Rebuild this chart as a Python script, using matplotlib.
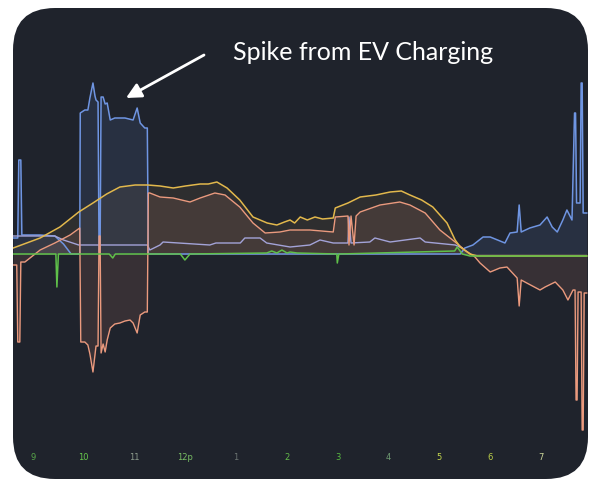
import numpy as np
import matplotlib
matplotlib.use("Agg")
import matplotlib.pyplot as plt
from matplotlib.patches import FancyBboxPatch

# horas (24h) y kW
solar_t = [8.61, 9.14, 9.53, 9.9, 10.18, 10.45, 10.71, 11.01, 11.26, 11.5, 11.76, 12.0,
           12.29, 12.45, 12.62, 12.82, 13.07, 13.33, 13.61, 13.8, 13.95, 14.06, 14.15,
           14.26, 14.4, 14.55, 14.7, 14.91, 14.95, 15.2, 15.44, 15.75, 16.03, 16.25,
           16.42, 16.65, 16.87, 17.15, 17.31, 17.41, 17.6, 17.75, 19.9]
solar_v = [0.3, 0.8, 1.35, 2.1, 2.55, 3.0, 3.35, 3.45, 3.45, 3.4, 3.3, 3.4,
           3.5, 3.5, 3.6, 3.3, 2.7, 1.85, 1.55, 1.45, 1.6, 1.7, 1.55,
           1.85, 1.7, 1.85, 1.75, 1.8, 2.3, 2.55, 2.85, 2.95, 3.1, 3.15,
           2.95, 2.7, 2.35, 1.55, 0.7, 0.35, 0.0, -0.1, -0.1]

net_t = [8.61, 8.68, 8.70, 8.74, 8.76, 8.84, 9.14, 9.43, 9.73, 9.92,
         9.94, 10.02, 10.08, 10.12, 10.18, 10.24, 10.28, 10.30, 10.32, 10.34,
         10.38, 10.42, 10.46, 10.52, 10.61, 10.71, 10.81, 10.91, 10.97, 11.05,
         11.11, 11.2, 11.25, 11.27, 11.3, 11.5, 11.76, 12.09, 12.29, 12.58,
         12.78, 13.07, 13.33, 13.57, 13.86, 14.06, 14.45, 14.91, 14.95, 15.2,
         15.22, 15.26, 15.32, 15.36, 15.44, 15.83, 16.22, 16.42, 16.72, 17.01,
         17.31, 17.5, 17.7, 17.8, 18.0, 18.19, 18.33, 18.53, 18.57, 18.61,
         18.72, 18.98, 19.08, 19.28, 19.43, 19.53, 19.63, 19.67, 19.69, 19.71,
         19.73, 19.79, 19.81, 19.83, 19.85, 19.9]
net_v = [-0.55, -0.55, -4.4, -4.4, -0.4, -0.4, 0.2, 0.55, 0.95, 1.3,
         -4.4, -4.4, -4.55, -5.0, -5.9, -4.6, -4.6, 0.9, 0.9, -4.95,
         -4.5, -4.9, -4.3, -3.7, -3.5, -3.45, -3.35, -3.3, -3.45, -3.95,
         -3.05, -2.9, -2.9, 3.05, 3.05, 2.85, 2.8, 2.6, 2.8, 3.05,
         2.95, 2.35, 1.55, 1.05, 1.1, 1.2, 1.2, 1.1, 1.85, 1.9,
         0.45, 1.9, 0.45, 1.9, 2.1, 2.45, 2.6, 2.45, 2.05, 1.2,
         0.6, 0.2, -0.15, -0.45, -0.9, -0.7, -0.65, -1.2, -2.6, -1.3,
         -1.45, -1.8, -1.65, -1.4, -1.8, -2.3, -1.8, -1.8, -7.3, -7.3,
         -1.9, -1.9, -8.8, -8.8, -1.95, -1.95]

grid_t = [8.61, 8.70, 8.72, 8.76, 8.78, 9.14, 9.43, 9.6, 9.75, 9.92,
          9.93, 10.02, 10.08, 10.12, 10.18, 10.22, 10.24, 10.28, 10.30, 10.32,
          10.34, 10.38, 10.42, 10.46, 10.52, 10.61, 10.81, 10.97, 11.05, 11.11,
          11.2, 11.25, 11.27, 17.41, 17.5, 17.66, 17.86, 18.0, 18.29, 18.39,
          18.53, 18.57, 18.61, 18.78, 18.98, 19.12, 19.22, 19.32, 19.43, 19.51,
          19.61, 19.66, 19.68, 19.70, 19.77, 19.79, 19.81, 19.83, 19.9]
grid_v = [0.8, 0.8, 4.7, 4.7, 0.95, 0.95, 0.9, 0.5, 0.0, 0.0,
          7.05, 7.2, 7.2, 7.8, 8.55, 7.9, 7.7, 7.6, 0.1, 0.1,
          7.85, 7.85, 7.5, 7.55, 6.7, 6.8, 6.8, 6.7, 7.3, 6.55,
          6.3, 6.3, 0.0, 0.0, 0.3, 0.45, 0.85, 0.85, 0.55, 1.05,
          1.1, 2.45, 1.1, 1.3, 1.45, 1.85, 1.35, 1.1, 1.7, 2.2,
          1.7, 7.05, 7.05, 2.55, 2.55, 8.55, 8.55, 2.05, 2.05]

home_t = [8.61, 9.43, 9.6, 9.9, 11.25, 11.3, 11.5, 11.56, 12.48, 12.6,
          13.08, 13.17, 13.47, 13.6, 14.06, 14.45, 14.65, 14.91, 15.2, 15.22,
          15.26, 15.63, 15.73, 16.03, 16.62, 16.72, 17.31, 17.45]
home_v = [0.9, 0.9, 0.7, 0.45, 0.45, 0.2, 0.45, 0.6, 0.45, 0.55,
          0.55, 0.8, 0.8, 0.55, 0.35, 0.45, 0.7, 0.55, 0.55, 1.85,
          0.55, 0.6, 0.8, 0.6, 0.8, 0.6, 0.45, 0.3]

batt_t = [8.61, 9.45, 9.47, 9.50, 10.5, 10.57, 10.62, 11.9, 11.99, 12.09,
          13.6, 13.7, 13.8, 13.9, 14.0, 14.06, 14.2, 14.98, 14.99, 15.02,
          17.3, 17.35, 17.45, 17.6, 19.9]
batt_v = [0.0, 0.0, -1.65, 0.0, 0.0, -0.2, 0.0, 0.0, -0.3, 0.0,
          0.05, 0.15, 0.05, 0.2, 0.05, 0.1, 0.05, 0.0, -0.45, 0.0,
          0.15, 0.35, 0.0, -0.1, -0.1]

hour_ticks = [9, 10, 11, 12, 13, 14, 15, 16, 17, 18, 19]
hour_labels = ["9", "10", "11", "12p", "1", "2", "3", "4", "5", "6", "7"]
label_colors = ["#58a64a", "#66c84c", "#8c9a8c", "#78bd64", "#6b7472", "#62b84a",
                "#58b842", "#6e9a72", "#c4d64e", "#bccf48", "#ccd69a"]

BG = "#1f232c"

fig = plt.figure(figsize=(5.92, 4.83), dpi=100)
fig.patch.set_facecolor("white")

panel = FancyBboxPatch((13, 4), 575, 471, boxstyle="round,pad=0,rounding_size=42",
                       transform=None, facecolor=BG, edgecolor="none", zorder=0)
fig.add_artist(panel)

ax = fig.add_axes([13 / 592, 4 / 483, 575 / 592, 471 / 483])
ax.set_xlim(8.606, 19.925)
ax.set_ylim(-11.25, 12.3)
ax.axis("off")
ax.patch.set_alpha(0)

arts = []
arts.append(ax.fill_between(solar_t, 0, solar_v, color="#c8a050", alpha=0.09, lw=0))
arts.append(ax.fill_between(net_t, 0, net_v, color="#e8927a", alpha=0.12, lw=0))
arts.append(ax.fill_between(grid_t, 0, grid_v, color="#6a90e0", alpha=0.12, lw=0))
arts += ax.plot(grid_t, grid_v, color="#6f95e2", lw=1.1)
arts += ax.plot(home_t, home_v, color="#a3a3d8", lw=1.0)
arts += ax.plot(net_t, net_v, color="#eb9a7e", lw=1.0)
arts += ax.plot(solar_t, solar_v, color="#e2b84c", lw=1.1)
arts += ax.plot(batt_t, batt_v, color="#5fc04a", lw=1.1)
for a in arts:
    a.set_clip_path(panel)

for h, lab, c in zip(hour_ticks, hour_labels, label_colors):
    ax.text(h, -10.15, lab, color=c, fontsize=6, ha="center", va="center",
            family="DejaVu Sans")

ax.annotate("", xy=(126, 483 - 98), xycoords="figure pixels",
            xytext=(204, 483 - 55), textcoords="figure pixels",
            arrowprops=dict(arrowstyle="-|>,head_length=0.9,head_width=0.45",
                            color="white", lw=2, shrinkA=0, shrinkB=0))
fig.text(233, 483 - 53, "Spike from EV Charging", color="white", fontsize=18,
         family="Lato", ha="left", va="center", transform=None)

fig.savefig("out.png", dpi=100, facecolor="white")
